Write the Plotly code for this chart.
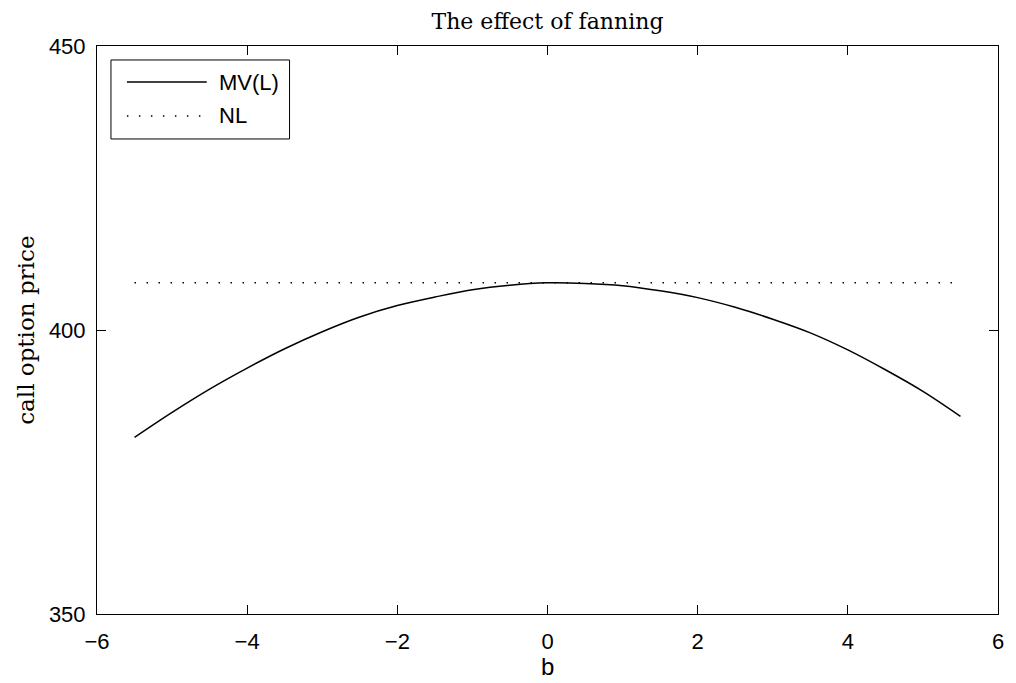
import plotly.graph_objects as go

# Data
b_vals = [-5.5, -5.0, -4.5, -4.0, -3.5, -3.0, -2.5, -2.0, -1.5, -1.0, -0.5, 0.0,
          0.5, 1.0, 1.5, 2.0, 2.5, 3.0, 3.5, 4.0, 4.5, 5.0, 5.5]
mv_l = [381.1, 385.5, 389.6, 393.3, 396.7, 399.7, 402.3, 404.3, 405.8, 407.1, 407.9, 408.3,
        408.2, 407.8, 406.9, 405.7, 404.0, 401.9, 399.5, 396.5, 393.0, 389.2, 384.8]
nl_b = [-5.5, 5.5]
nl_vals = [408.3, 408.3]

x_ticks = [-6, -4, -2, 0, 2, 4, 6]
y_ticks = [350, 400, 450]

fig = go.Figure()
fig.add_trace(go.Scatter(x=b_vals, y=mv_l, mode="lines", name="MV(L)",
                         line=dict(color="black", width=1.5, shape="spline"),
                         showlegend=False))
fig.add_trace(go.Scatter(x=nl_b, y=nl_vals, mode="lines", name="NL",
                         line=dict(color="black", width=1.5, dash="1.5px,10.5px"),
                         showlegend=False))

sans = "Liberation Sans, Arial, sans-serif"
serif = "DejaVu Serif, serif"

# Manual legend (MATLAB style)
fig.add_shape(type="rect", xref="paper", yref="paper",
              x0=0.0155, x1=0.2137, y0=0.8363, y1=0.9754,
              line=dict(color="black", width=1), fillcolor="white", layer="above")
fig.add_shape(type="line", xref="paper", yref="paper",
              x0=0.0332, x1=0.1218, y0=0.9366, y1=0.9366,
              line=dict(color="black", width=1.3), layer="above")
fig.add_shape(type="line", xref="paper", yref="paper",
              x0=0.0332, x1=0.1218, y0=0.8768, y1=0.8768,
              line=dict(color="black", width=1.5, dash="1.5px,10.5px"), layer="above")
fig.add_annotation(text="MV(L)", xref="paper", yref="paper", x=0.133, y=0.9366,
                   xanchor="left", yanchor="middle", showarrow=False,
                   font=dict(family=sans, size=22, color="black"))
fig.add_annotation(text="NL", xref="paper", yref="paper", x=0.133, y=0.8768,
                   xanchor="left", yanchor="middle", showarrow=False,
                   font=dict(family=sans, size=22, color="black"))

# Axis titles
fig.add_annotation(text="call option price", xref="paper", yref="paper",
                   x=-0.079, y=0.5, textangle=-90, xanchor="center", yanchor="middle",
                   showarrow=False, font=dict(family=serif, size=23, color="black"))
fig.add_annotation(text="b", xref="paper", yref="paper",
                   x=0.5, y=-0.0933, xanchor="center", yanchor="middle",
                   showarrow=False, font=dict(family=sans, size=24, color="black"))

fig.update_layout(
    width=1016, height=683,
    margin=dict(l=97, r=16, t=46, b=69),
    paper_bgcolor="white", plot_bgcolor="white",
    title=dict(text="The effect of fanning", xref="paper", x=0.5, xanchor="center",
               yref="container", y=1 - 21 / 683, yanchor="middle",
               font=dict(family=serif, size=22, color="black")),
    showlegend=False,
)
fig.update_xaxes(range=[-6, 6], tickvals=x_ticks, ticks="inside", ticklen=9,
                 tickcolor="black", showline=True, linecolor="black", linewidth=1,
                 mirror="ticks", showgrid=False, zeroline=False,
                 tickfont=dict(family=sans, size=22, color="black"),
                 ticklabelstandoff=8)
fig.update_yaxes(range=[350, 450], tickvals=y_ticks, ticks="inside", ticklen=9,
                 tickcolor="black", showline=True, linecolor="black", linewidth=1,
                 mirror="ticks", showgrid=False, zeroline=False,
                 tickfont=dict(family=sans, size=22, color="black"),
                 ticklabelstandoff=6)

fig.write_html("out.html")
